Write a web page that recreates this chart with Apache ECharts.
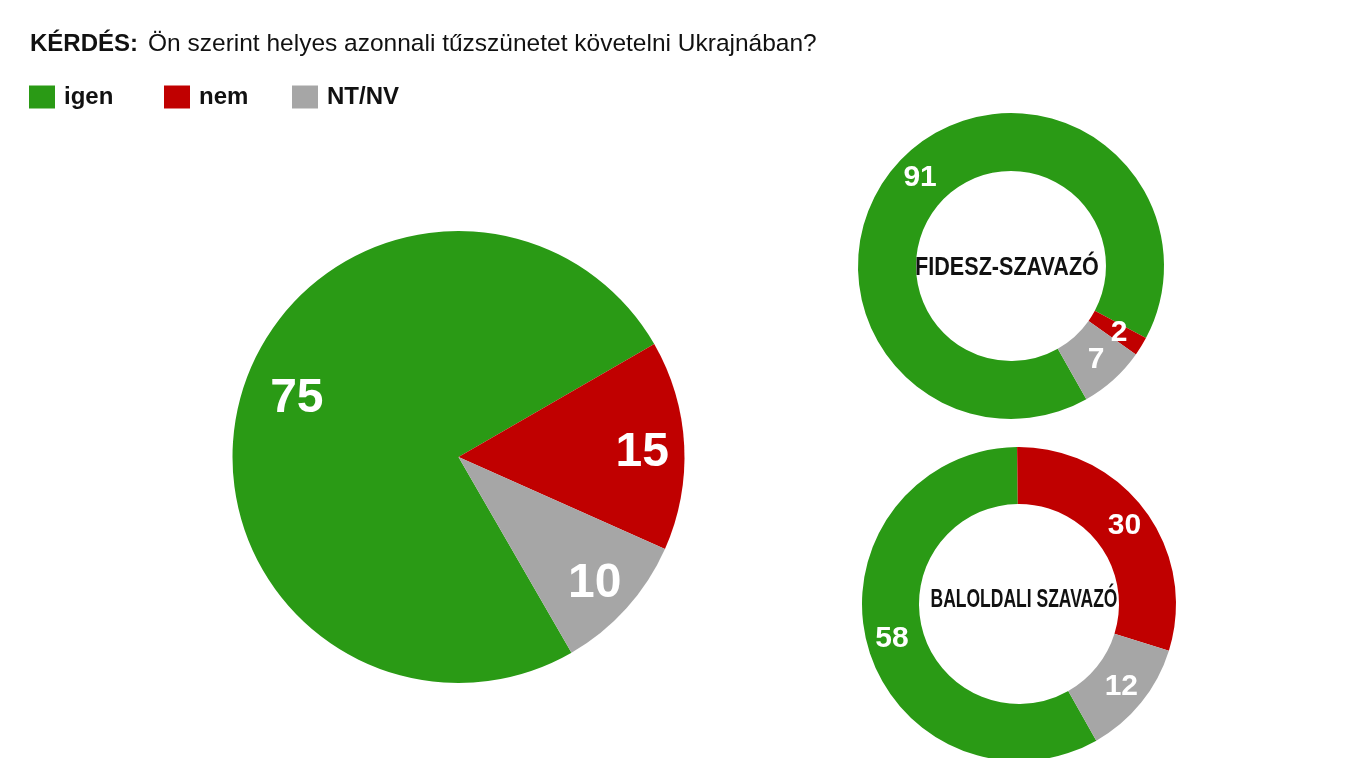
<!DOCTYPE html>
<html>
<head>
<meta charset="utf-8">
<script src="https://cdn.jsdelivr.net/npm/echarts@6/dist/echarts.min.js"></script>
<style>
html,body{margin:0;padding:0;background:#fff;}
#chart{width:1347px;height:758px;}
</style>
</head>
<body>
<div id="chart"></div>
<script>
// ---- data ----
const titleBold = 'KÉRDÉS:';
const titleText = 'Ön szerint helyes azonnali tűzszünetet követelni Ukrajnában?';
const categories = ['igen', 'nem', 'NT/NV'];
const overallValues = [75, 15, 10];
const fideszValues = [91, 2, 7];
const baloldaliValues = [58, 30, 12];
const groupLabels = ['FIDESZ-SZAVAZÓ', 'BALOLDALI SZAVAZÓ'];

// ---- styling ----
const colors = ['#2a9a15', '#c00000', '#a6a6a6'];
const FONT = '"Liberation Sans", Arial, sans-serif';
const mainLabelNudge = [[18, -10], [-2, 6], [-2, 2]];

const toData = vals => categories.map((c, i) => ({ name: c, value: vals[i] }));

const mainCenter = [458.5, 457];
const fidCenter = [1011, 266];
const balCenter = [1019, 604];

const chart = echarts.init(document.getElementById('chart'));

const legendPos = [29, 164, 292];

const option = {
  animation: false,
  color: colors,
  backgroundColor: '#ffffff',
  title: {
    left: 25,
    top: 27,
    text: '{b|' + titleBold + '}  {n|' + titleText + '}',
    textStyle: {
      rich: {
        b: { fontFamily: FONT, fontSize: 24, fontWeight: 'bold', color: '#111' },
        n: { fontFamily: FONT, fontSize: 24.5, fontWeight: 'normal', color: '#111' }
      }
    }
  },
  legend: categories.map((c, i) => ({
    data: [c],
    left: legendPos[i],
    top: 85,
    padding: 0,
    icon: 'rect',
    itemWidth: 26,
    itemHeight: 23,
    selectedMode: false,
    textStyle: { fontFamily: FONT, fontSize: 24, fontWeight: 'bold', color: '#111', padding: [0, 0, 0, 4] }
  })),
  series: [
    {
      type: 'pie',
      name: 'overall',
      center: mainCenter,
      radius: [0, 226],
      startAngle: 300,
      silent: true,
      avoidLabelOverlap: false,
      label: { show: false },
      labelLine: { show: false },
      data: toData(overallValues)
    },
    {
      type: 'pie',
      name: 'overall-labels',
      center: mainCenter,
      radius: [140, 226],
      startAngle: 300,
      silent: true,
      avoidLabelOverlap: false,
      itemStyle: { color: 'rgba(0,0,0,0)' },
      label: {
        show: true, position: 'inside', formatter: '{c}',
        fontFamily: FONT, fontSize: 48, fontWeight: 'bold', color: '#fff'
      },
      labelLine: { show: false },
      data: toData(overallValues).map((d, i) => Object.assign(d, { label: { offset: mainLabelNudge[i] } }))
    },
    {
      type: 'pie',
      name: 'fidesz',
      center: fidCenter,
      radius: [95, 153],
      startAngle: 299.5,
      silent: true,
      avoidLabelOverlap: false,
      label: {
        show: true, position: 'inside', formatter: '{c}',
        fontFamily: FONT, fontSize: 30, fontWeight: 'bold', color: '#fff'
      },
      labelLine: { show: false },
      data: toData(fideszValues)
    },
    {
      type: 'pie',
      name: 'baloldali',
      center: balCenter,
      radius: [100, 157],
      startAngle: 299.5,
      silent: true,
      avoidLabelOverlap: false,
      label: {
        show: true, position: 'inside', formatter: '{c}',
        fontFamily: FONT, fontSize: 30, fontWeight: 'bold', color: '#fff'
      },
      labelLine: { show: false },
      data: toData(baloldaliValues)
    }
  ],
  graphic: [
    {
      type: 'text', x: fidCenter[0] - 4, y: fidCenter[1] + 2, scaleX: 0.83,
      style: {
        text: groupLabels[0], font: 'bold 26px ' + FONT, fill: '#111',
        textAlign: 'center', textVerticalAlign: 'middle', align: 'center', verticalAlign: 'middle'
      }
    },
    {
      type: 'text', x: balCenter[0] + 5, y: balCenter[1] - 4, scaleX: 0.7,
      style: {
        text: groupLabels[1], font: 'bold 25px ' + FONT, fill: '#111',
        textAlign: 'center', textVerticalAlign: 'middle', align: 'center', verticalAlign: 'middle'
      }
    }
  ]
};

chart.setOption(option);
</script>
</body>
</html>
